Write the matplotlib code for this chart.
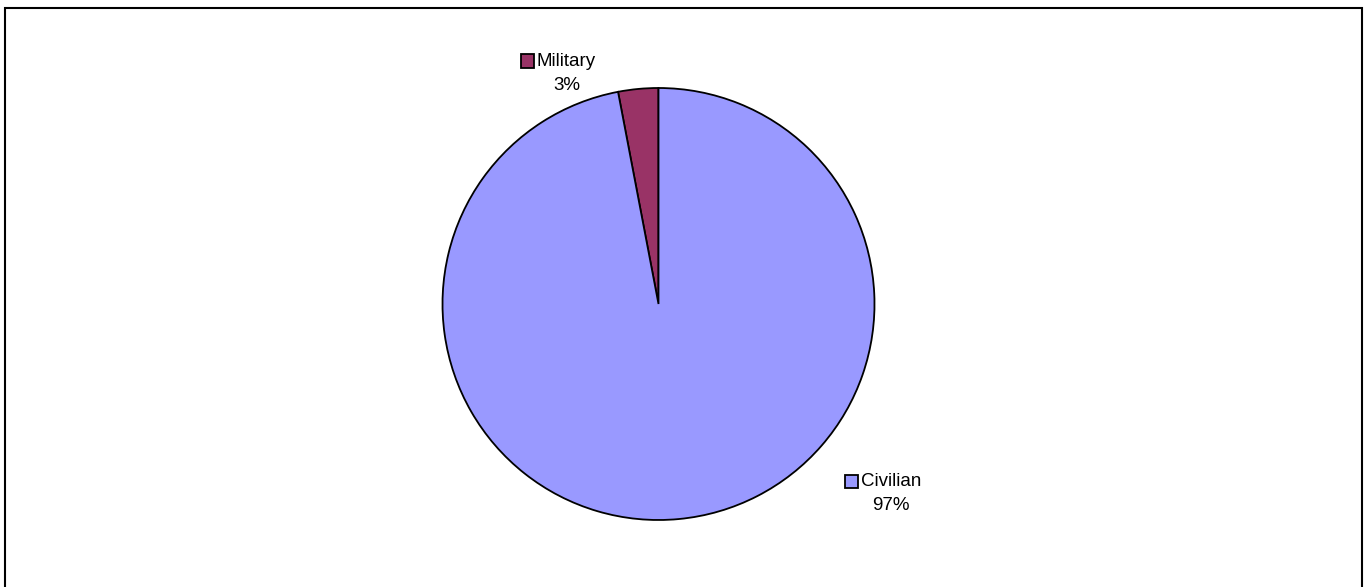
import matplotlib.pyplot as plt
from matplotlib.patches import Rectangle

plt.rcParams['font.family'] = ['Liberation Sans', 'DejaVu Sans']

labels = ['Military', 'Civilian']
values = [3, 97]
colors = ['#993366', '#9999FF']

W, H = 1366, 587
fig = plt.figure(figsize=(W / 100, H / 100), dpi=100)

# outer chart frame
fig.patches.append(Rectangle((5 / W, -0.05), (1362 - 5) / W, 1.05 - 8 / H,
                             transform=fig.transFigure, fill=False,
                             edgecolor='black', linewidth=1.5))

ax = fig.add_axes([0, 0, 1, 1])
r = 216
cx, cy = 658.5, 304
ax.pie(values, colors=colors, startangle=90, counterclock=True, radius=1,
       wedgeprops=dict(edgecolor='black', linewidth=1.3))
ax.set_xlim(-cx / r, (W - cx) / r)
ax.set_ylim(-(H - cy) / r, cy / r)
ax.set_aspect('equal')
ax.axis('off')

# data labels with legend key, positions in pixels (left of key, row y)
label_pos = {'Military': (521, 61), 'Civilian': (845, 481)}
for name, val, col in zip(labels, values, colors):
    x0, y0 = label_pos[name]
    fig.patches.append(Rectangle((x0 / W, 1 - (y0 + 6.5) / H), 13 / W, 13 / H,
                                 transform=fig.transFigure, facecolor=col,
                                 edgecolor='black', linewidth=1.3))
    fig.text((x0 + 16) / W, 1 - y0 / H, name, fontsize=13.5,
             ha='left', va='center')
    fig.text((x0 + 46) / W, 1 - (y0 + 24) / H, f'{val}%', fontsize=13.5,
             ha='center', va='center')

fig.savefig('out.png', dpi=100)
